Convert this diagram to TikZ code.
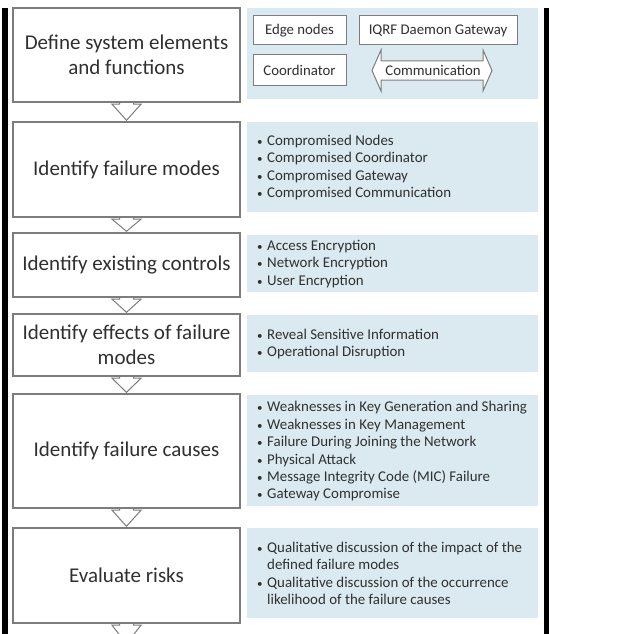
\documentclass[tikz,border=0pt]{standalone}
\usepackage{fontspec}
\setmainfont{Carlito}
\usetikzlibrary{calc}
\pgfdeclarelayer{canvas}
\pgfdeclarelayer{bg}
\pgfsetlayers{canvas,bg,main}
\definecolor{panelblue}{RGB}{219,234,240}
\definecolor{boxgray}{RGB}{125,125,125}
\definecolor{txt}{RGB}{48,48,48}
\newcommand\flowarrow[2]{%
  \draw[downarrow] ($(#1.south)+(-7,-6)$) -- ($(#1.south)+(-7,1.5)$) -- ($(#1.south)+(-14.5,1.5)$)
    -- ($(#2.north)+(0,-1)$) -- ($(#1.south)+(14.5,1.5)$) -- ($(#1.south)+(7,1.5)$) -- ($(#1.south)+(7,-6)$);}
\newcommand\itemlist[1]{\begin{tabular}{@{}l@{\hspace{4.5pt}}l@{}}#1\end{tabular}}
\newcommand\bul{{\fontsize{11}{11}\selectfont •}}
\begin{document}
\begin{tikzpicture}[x=1pt,y=-1pt,
  stepbox/.style={draw=boxgray, line width=1.4pt, fill=white, minimum width=227pt, inner sep=0pt,
    align=center, font=\fontsize{21}{25}\selectfont, text=txt},
  panel/.style={fill=panelblue, minimum width=291pt, inner sep=0pt},
  itemtext/.style={anchor=west, inner sep=0pt, align=left, font=\fontsize{14.9}{17.4}\selectfont, text=txt},
  smallbox/.style={draw=boxgray, line width=1pt, fill=white, inner sep=0pt,
    font=\fontsize{14.8}{17}\selectfont, text=txt},
  downarrow/.style={draw=boxgray, line width=1pt, fill=white, line join=miter},
  commarrow/.style={draw=boxgray, line width=1pt, fill=white, line join=miter},
]
\useasboundingbox (0,0) rectangle (616,634);
\begin{pgfonlayer}{canvas}
\fill[white] (0,0) rectangle (616,634);
\end{pgfonlayer}
\fill[black] (1.5,8) rectangle (7.5,634);
\fill[black] (544,8) rectangle (549,634);

% left step boxes
\node[stepbox, minimum height=94pt] (b1) at (126.5,55) {Define system elements\\and functions};
\node[stepbox, minimum height=95pt] (b2) at (126.5,169.5) {Identify failure modes};
\node[stepbox, minimum height=64pt] (b3) at (126.5,265) {Identify existing controls};
\node[stepbox, minimum height=62pt] (b4) at (126.5,345) {Identify effects of failure\\modes};
\node[stepbox, minimum height=114pt] (b5) at (126.5,451) {Identify failure causes};
\node[stepbox, minimum height=95pt] (b6) at (126.5,575.5) {Evaluate risks};
\coordinate (bend) at ($(b6.south)+(0,21)$);

% right panels
\node[panel, minimum height=91pt] (p1) at (392.5,53.5) {};
\node[panel, minimum height=90pt] (p2) at (392.5,167) {};
\node[panel, minimum height=57pt] (p3) at (392.5,263.5) {};
\node[panel, minimum height=57pt] (p4) at (392.5,343.5) {};
\node[panel, minimum height=111pt] (p5) at (392.5,450.5) {};
\node[panel, minimum height=90pt] (p6) at (392.5,573) {};

% panel 1 content
\node[smallbox, minimum width=93pt, minimum height=29pt] (edge) at (299.5,30.5) {Edge nodes};
\node[smallbox, minimum width=158pt, minimum height=29pt] (iqrf) at (438,30.5) {IQRF Daemon Gateway};
\node[smallbox, minimum width=93pt, minimum height=30pt] (coord) at (299.5,70) {Coordinator};
\draw[commarrow] (372,70.5) -- (381,50) -- (381,61) -- (483,61) -- (483,50) -- (492,70.5)
  -- (483,91) -- (483,80) -- (381,80) -- (381,91) -- cycle;
\node[inner sep=0pt, font=\fontsize{14.8}{17}\selectfont, text=txt] (comm) at (433,70.5) {Communication};

% panel lists
\node[itemtext] (l2) at (257,168) {\itemlist{\bul&Compromised Nodes\\\bul&Compromised Coordinator\\\bul&Compromised Gateway\\\bul&Compromised Communication}};
\node[itemtext] (l3) at (257,264.5) {\itemlist{\bul&Access Encryption\\\bul&Network Encryption\\\bul&User Encryption}};
\node[itemtext] (l4) at (257,344.5) {\itemlist{\bul&Reveal Sensitive Information\\\bul&Operational Disruption}};
\node[itemtext] (l5) at (257,452) {\itemlist{\bul&Weaknesses in Key Generation and Sharing\\\bul&Weaknesses in Key Management\\\bul&Failure During Joining the Network\\\bul&Physical Attack\\\bul&Message Integrity Code (MIC) Failure\\\bul&Gateway Compromise}};
\node[itemtext] (l6) at (257,575) {\itemlist{\bul&Qualitative discussion of the impact of the\\&defined failure modes\\\bul&Qualitative discussion of the occurrence\\&likelihood of the failure causes}};

% flow arrows
\begin{pgfonlayer}{bg}
\flowarrow{b1}{b2}
\flowarrow{b2}{b3}
\flowarrow{b3}{b4}
\flowarrow{b4}{b5}
\flowarrow{b5}{b6}
\flowarrow{b6}{bend}
\end{pgfonlayer}
\end{tikzpicture}
\end{document}
